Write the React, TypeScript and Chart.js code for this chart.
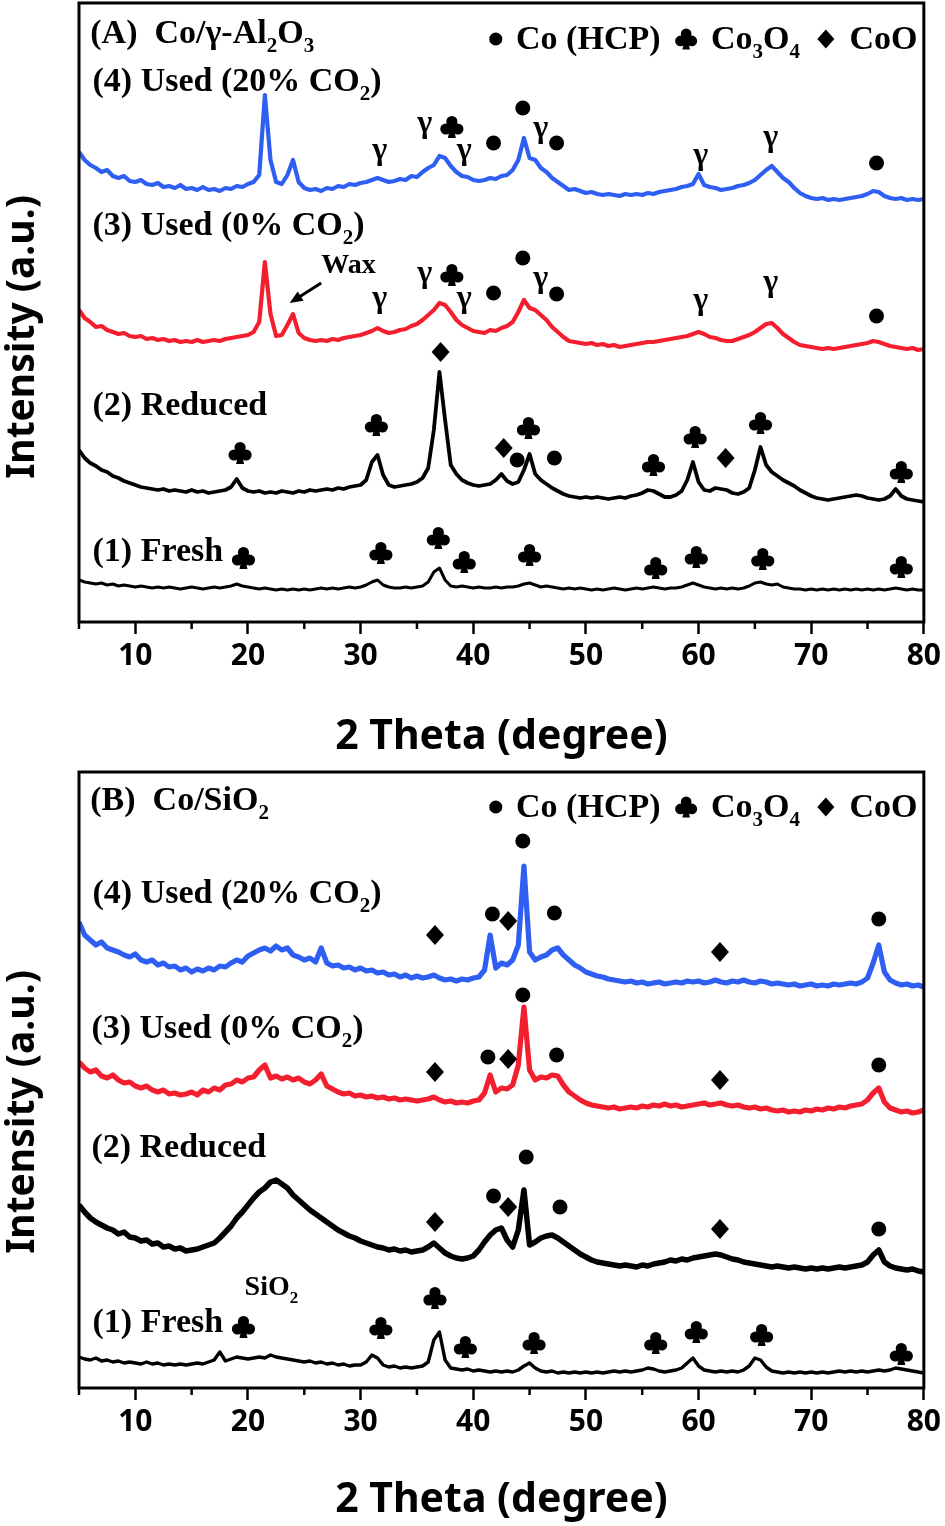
import React, { useEffect, useRef } from "react";
import { Chart, registerables } from "chart.js";
Chart.register(...registerables);

// 2-theta grid (degrees)
const THETA = [
  5, 5.5, 6, 6.5, 7, 7.5, 8, 8.5, 9, 9.5,
  10, 10.5, 11, 11.5, 12, 12.5, 13, 13.5, 14, 14.5,
  15, 15.5, 16, 16.5, 17, 17.5, 18, 18.5, 19, 19.5,
  20, 20.5, 21, 21.5, 22, 22.5, 23, 23.5, 24, 24.5,
  25, 25.5, 26, 26.5, 27, 27.5, 28, 28.5, 29, 29.5,
  30, 30.5, 31, 31.5, 32, 32.5, 33, 33.5, 34, 34.5,
  35, 35.5, 36, 36.5, 37, 37.5, 38, 38.5, 39, 39.5,
  40, 40.5, 41, 41.5, 42, 42.5, 43, 43.5, 44, 44.5,
  45, 45.5, 46, 46.5, 47, 47.5, 48, 48.5, 49, 49.5,
  50, 50.5, 51, 51.5, 52, 52.5, 53, 53.5, 54, 54.5,
  55, 55.5, 56, 56.5, 57, 57.5, 58, 58.5, 59, 59.5,
  60, 60.5, 61, 61.5, 62, 62.5, 63, 63.5, 64, 64.5,
  65, 65.5, 66, 66.5, 67, 67.5, 68, 68.5, 69, 69.5,
  70, 70.5, 71, 71.5, 72, 72.5, 73, 73.5, 74, 74.5,
  75, 75.5, 76, 76.5, 77, 77.5, 78, 78.5, 79, 79.5,
  80,
];

// Panel A: Co/γ-Al2O3 (stacked intensities, a.u.)
const A_USED20 = [
  470, 462, 457, 454, 450, 452, 446, 444, 446, 441,
  440, 442, 438, 437, 439, 435, 436, 434, 437, 433,
  434, 432, 435, 432, 433, 431, 434, 433, 436, 435,
  438, 440, 447, 527, 462, 440, 438, 447, 462, 440,
  434, 432, 433, 431, 434, 433, 436, 435, 438, 437,
  439, 440, 442, 444, 442, 440, 441, 443, 442, 446,
  445, 450, 454, 457, 466, 464, 456, 450, 446, 445,
  442, 441, 442, 444, 443, 446, 447, 452, 462, 484,
  464, 462, 454, 450, 444, 440, 436, 432, 433, 431,
  429, 430, 428, 427, 428, 427, 426, 428, 427, 428,
  427, 429, 428, 430, 431, 432, 433, 435, 436, 438,
  448, 437, 435, 434, 432, 433, 434, 436, 437, 439,
  442, 447, 452, 456, 450, 444, 440, 434, 429, 426,
  424, 423, 424, 422, 423, 422, 423, 424, 425, 426,
  428, 431, 430, 426, 424, 423, 424, 422, 423, 422,
  423,
];
const A_USED0 = [
  312, 304, 300, 295, 296, 292, 290, 288, 289, 286,
  285, 286, 283, 284, 282, 283, 281, 282, 280, 281,
  280, 282, 280, 281, 282, 281, 283, 284, 285, 286,
  287, 290, 300, 360, 308, 286, 287, 297, 308, 289,
  284, 282, 281, 282, 281, 283, 282, 284, 285, 286,
  287, 289, 291, 294, 291, 289, 290, 292, 293, 296,
  298, 302, 307, 312, 319, 317, 310, 302, 297, 294,
  291, 290, 289, 292, 291, 294, 296, 300, 310, 322,
  314, 312, 307, 302, 295, 290, 285, 281, 280, 279,
  278, 279, 277, 278, 276, 277, 275, 276, 277, 278,
  279, 280, 280, 281, 282, 283, 284, 285, 286, 288,
  290, 288, 285, 284, 282, 281, 281, 283, 285, 287,
  290, 294, 298, 299, 294, 288, 284, 280, 277, 276,
  275, 274, 273, 274, 273, 274, 275, 276, 277, 278,
  279, 281, 280, 278, 276, 275, 274, 273, 274, 272,
  273,
];
const A_REDUCED = [
  172, 164, 159, 156, 152, 150, 146, 144, 141, 139,
  137, 135, 134, 133, 132, 133, 131, 132, 131, 130,
  132, 130, 131, 129, 130, 131, 132, 135, 143, 134,
  131, 130, 131, 129, 130, 129, 131, 130, 129, 131,
  130, 132, 131, 132, 133, 132, 134, 133, 135, 136,
  137, 142, 160, 167, 147, 137, 135, 136, 137, 138,
  140, 144, 154, 192, 250, 202, 157, 148, 142, 139,
  137, 136, 137, 138, 142, 148, 141, 138, 140, 152,
  168, 148, 142, 138, 134, 131, 128, 126, 125, 124,
  125, 124, 125, 124, 123, 124, 125, 124, 126, 127,
  129, 132, 131, 128, 125, 125, 127, 131, 142, 160,
  140, 132, 131, 134, 133, 132, 129, 128, 130, 134,
  152, 175, 157, 150, 146, 142, 139, 136, 132, 129,
  126, 124, 123, 122, 123, 124, 125, 126, 127, 126,
  124, 123, 122, 123, 126, 133, 126, 123, 122, 121,
  120,
];
const A_FRESH = [
  42, 40, 39, 38, 39, 37, 38, 36, 37, 36,
  35, 36, 35, 34, 35, 34, 35, 34, 33, 34,
  35, 34, 33, 34, 35, 34, 35, 36, 38, 36,
  35, 34, 33, 34, 33, 32, 33, 32, 33, 32,
  33, 32, 33, 34, 33, 34, 33, 34, 35, 34,
  35, 37, 40, 42, 37, 35, 34, 34, 35, 34,
  35, 36, 40, 50, 54, 42, 36, 35, 36, 35,
  34, 35, 34, 34, 35, 34, 35, 35, 36, 38,
  39, 37, 35, 36, 35, 34, 33, 34, 33, 34,
  33, 32, 33, 32, 33, 34, 33, 32, 33, 34,
  33, 34, 35, 34, 33, 34, 34, 35, 37, 39,
  37, 35, 34, 33, 34, 33, 34, 33, 34, 36,
  39, 40, 38, 37, 38, 35, 34, 33, 33, 32,
  33, 32, 33, 32, 33, 32, 33, 32, 33, 32,
  33, 32, 33, 32, 33, 34, 33, 32, 33, 32,
  32,
];

// Panel B: Co/SiO2
const B_USED20 = [
  466, 453, 448, 443, 446, 440, 438, 436, 433, 431,
  434, 428, 426, 428, 423, 425, 421, 422, 418, 420,
  416, 419, 417, 420, 418, 422, 421, 425, 428, 426,
  432, 435, 438, 440, 437, 442, 438, 440, 433, 431,
  428, 430, 426, 440, 425, 422, 423, 420, 421, 418,
  420, 417, 418, 415, 416, 413, 414, 411, 413, 410,
  412, 410, 411, 413, 410, 408, 409, 407, 409, 408,
  410, 411, 418, 453, 420, 425, 423, 428, 443, 522,
  436, 428, 431, 433, 438, 440, 433, 428, 423, 420,
  416, 414, 412, 411, 409, 408, 407, 406, 407, 405,
  406, 404, 405, 406, 404, 405, 406, 405, 407, 406,
  407, 405, 406, 408, 406, 405, 407, 406, 408, 406,
  405, 407, 406, 404, 405, 404, 403, 404, 402, 403,
  404, 402, 403, 402, 404, 403, 404, 405, 404, 406,
  410, 425, 443, 416, 408, 405, 403, 404, 402, 403,
  401,
];
const B_USED0 = [
  326, 320, 316, 318, 312, 310, 313, 308, 305, 306,
  302, 300, 302, 298, 296, 298, 294, 295, 293, 294,
  296, 293, 298, 296, 300, 298, 303, 304, 308, 306,
  310, 311, 318, 323, 310, 312, 309, 311, 308, 310,
  306, 304, 308, 314, 302, 299, 296, 294, 295, 292,
  293, 291, 292, 290, 291, 289, 290, 288, 289, 288,
  287, 288, 289, 291, 288, 286, 287, 285, 286, 285,
  287, 288, 295, 313, 296, 300, 299, 303, 323, 381,
  318, 308, 311, 310, 313, 312, 303, 296, 292, 288,
  285, 283, 282, 281, 280, 281, 279, 280, 281, 280,
  282, 281, 283, 282, 284, 282, 283, 281, 282, 283,
  284, 285, 283, 284, 285, 283, 282, 283, 281, 280,
  281, 279, 280, 278, 277, 278, 276, 277, 276, 278,
  277, 279, 278, 280, 279, 281, 280, 282, 283, 284,
  288, 295, 300, 286, 280, 278, 276, 277, 275, 276,
  278,
];
const B_REDUCED = [
  183, 176, 170, 166, 163, 160, 158, 154, 156, 151,
  150, 147, 148, 144, 145, 141, 142, 139, 140, 137,
  138, 139, 141, 143, 145, 150, 156, 162, 170, 176,
  183, 190, 196, 200, 206, 208, 204, 200, 193, 188,
  183, 178, 174, 170, 166, 162, 158, 155, 152, 150,
  147, 145, 143, 141, 140, 138, 139, 137, 138, 136,
  137, 138, 141, 145, 140, 135, 132, 130, 129, 130,
  132, 138, 146, 153, 158, 160, 148, 141, 158, 198,
  143, 146, 150, 152, 153, 150, 146, 142, 138, 134,
  131, 128, 126, 125, 124, 123, 122, 123, 122, 121,
  123, 122, 124, 125, 126, 128, 127, 129, 128, 130,
  131, 132, 133, 134, 133, 131, 129, 128, 126, 125,
  124, 123, 122, 121, 122, 121, 120, 121, 120, 119,
  120, 119, 120, 119, 120, 121, 120, 121, 122, 123,
  126, 133, 138, 126, 122, 120, 119, 118, 119, 117,
  116,
];
const B_FRESH = [
  31, 29, 28, 30, 27, 28, 26, 27, 25, 26,
  25, 24, 26, 24, 25, 23, 24, 23, 24, 23,
  24, 25, 24, 26, 28, 36, 27, 29, 31, 30,
  29, 30, 31, 30, 33, 31, 30, 29, 28, 27,
  26, 27, 25, 26, 24, 25, 23, 24, 22, 23,
  23, 26, 33, 30, 23, 21, 22, 20, 21, 20,
  21, 22, 26, 48, 56, 28, 20, 19, 18, 19,
  17, 18, 17, 16, 17, 16, 17, 16, 18, 22,
  25, 20, 17, 16, 17, 15, 16, 15, 16, 15,
  16, 15, 16, 15, 16, 17, 16, 17, 16, 17,
  18, 20, 19, 17, 16, 17, 18, 20, 25, 30,
  22, 18, 17, 16, 17, 16, 17, 16, 18, 22,
  30, 28, 21, 17, 16, 15, 16, 15, 16, 15,
  16, 15, 16, 15, 16, 17, 16, 17, 16, 17,
  16, 17, 18, 17, 18, 20, 19, 18, 17, 16,
  15,
];

const X_TICKS_MINOR = [5, 15, 25, 35, 45, 55, 65, 75];

type Mark = [string, number, number];
type Part = [string, boolean];
type Label = { parts: Part[]; x: number; y: number; size: number };

// peak markers: kind (g=γ, c=♣, o=●, d=◆), 2θ, intensity
const A_MARKS: Mark[] = [
  ["g", 31.7, 467], ["g", 35.7, 494], ["c", 38.1, 495], ["g", 39.2, 467], ["o", 41.8, 479], ["o", 44.4, 514],
  ["g", 46.0, 489], ["o", 47.4, 479], ["g", 60.2, 462], ["g", 66.4, 480], ["o", 75.8, 459],
  ["g", 31.7, 319], ["g", 35.7, 344], ["c", 38.1, 347], ["g", 39.2, 319], ["o", 41.8, 329], ["o", 44.4, 364],
  ["g", 46.0, 339], ["o", 47.4, 328], ["g", 60.2, 317], ["g", 66.4, 335], ["o", 75.8, 306],
  ["c", 19.3, 169], ["c", 31.4, 197], ["d", 37.1, 270], ["d", 42.7, 174], ["o", 43.9, 162], ["c", 44.9, 194],
  ["o", 47.2, 164], ["c", 56.0, 157], ["c", 59.7, 185], ["d", 62.4, 164], ["c", 65.5, 199], ["c", 78.0, 150],
  ["c", 19.6, 64], ["c", 31.8, 69], ["c", 36.9, 84], ["c", 39.2, 60], ["c", 45.0, 67], ["c", 56.2, 54],
  ["c", 59.8, 65], ["c", 65.7, 63], ["c", 78.0, 55],
];
const B_MARKS: Mark[] = [
  ["d", 36.6, 453], ["o", 41.7, 474], ["d", 43.1, 467], ["o", 44.4, 547], ["o", 47.2, 475], ["d", 61.9, 436], ["o", 76.0, 469],
  ["d", 36.6, 316], ["o", 41.3, 331], ["d", 43.1, 329], ["o", 44.4, 393], ["o", 47.4, 333], ["d", 61.9, 308], ["o", 76.0, 323],
  ["d", 36.6, 166], ["o", 41.8, 192], ["d", 43.1, 181], ["o", 44.7, 231], ["o", 47.7, 181], ["d", 61.9, 159], ["o", 76.0, 159],
  ["c", 19.6, 61], ["c", 31.8, 60], ["c", 36.6, 90], ["c", 39.3, 41], ["c", 45.4, 45], ["c", 56.2, 45],
  ["c", 59.8, 56], ["c", 65.6, 53], ["c", 78.0, 34],
];

const A_LABELS: Label[] = [
  { parts: [["(A)  Co/γ-Al", false], ["2", true], ["O", false], ["3", true]], x: 6.0, y: 579, size: 34 },
  { parts: [["(4) Used (20% CO", false], ["2", true], [")", false]], x: 6.2, y: 531, size: 34 },
  { parts: [["(3) Used (0% CO", false], ["2", true], [")", false]], x: 6.2, y: 387, size: 34 },
  { parts: [["(2) Reduced", false]], x: 6.2, y: 207, size: 34 },
  { parts: [["(1) Fresh", false]], x: 6.2, y: 61, size: 34 },
  { parts: [["Wax", false]], x: 26.5, y: 349, size: 28 },
];
const B_LABELS: Label[] = [
  { parts: [["(B)  Co/SiO", false], ["2", true]], x: 6.0, y: 578, size: 34 },
  { parts: [["(4) Used (20% CO", false], ["2", true], [")", false]], x: 6.2, y: 485, size: 34 },
  { parts: [["(3) Used (0% CO", false], ["2", true], [")", false]], x: 6.1, y: 350, size: 34 },
  { parts: [["(2) Reduced", false]], x: 6.1, y: 231, size: 34 },
  { parts: [["(1) Fresh", false]], x: 6.2, y: 56, size: 34 },
  { parts: [["SiO", false], ["2", true]], x: 19.7, y: 93, size: 28 },
];

// legend entries: symbol kind, symbol 2θ, text parts, text 2θ
const LEGEND_KINDS = ["o", "c", "d"];
const LEGEND_SYMBOL_X = [42.0, 58.9, 71.3];
const LEGEND_TEXT_X = [43.8, 61.1, 73.4];
const LEGEND_TEXTS: Part[][] = [
  [["Co (HCP)", false]],
  [["Co", false], ["3", true], ["O", false], ["4", true]],
  [["CoO", false]],
];

const BLUE = "#2f5ef2";
const RED = "#f41f2e";
const BLACK = "#000000";
const SANS = "'Noto Sans', 'Open Sans', sans-serif";
const SERIF = "'Liberation Serif', 'Times New Roman', serif";

type PanelDef = {
  series: { data: number[]; color: string; width: number }[];
  marks: Mark[];
  labels: Label[];
  legendY: number;
  yMax: number;
  padTop: number;
  axisH: number;
  yTitleCenter: number;
  arrow?: number[];
};

const PANEL_A: PanelDef = {
  series: [
    { data: A_USED20, color: BLUE, width: 4.2 },
    { data: A_USED0, color: RED, width: 4.2 },
    { data: A_REDUCED, color: BLACK, width: 3.8 },
    { data: A_FRESH, color: BLACK, width: 3 },
  ],
  marks: A_MARKS,
  labels: A_LABELS,
  legendY: 573,
  yMax: 619,
  padTop: 3,
  axisH: 141,
  yTitleCenter: 337,
  arrow: [26.5, 339, 23.7, 319],
};
const PANEL_B: PanelDef = {
  series: [
    { data: B_USED20, color: BLUE, width: 5.2 },
    { data: B_USED0, color: RED, width: 5.2 },
    { data: B_REDUCED, color: BLACK, width: 5.5 },
    { data: B_FRESH, color: BLACK, width: 3.4 },
  ],
  marks: B_MARKS,
  labels: B_LABELS,
  legendY: 571,
  yMax: 616,
  padTop: 9,
  axisH: 138,
  yTitleCenter: 349,
};

function drawParts(ctx: CanvasRenderingContext2D, parts: Part[], x: number, y: number, size: number) {
  let cx = x;
  ctx.textAlign = "left";
  ctx.textBaseline = "alphabetic";
  for (const [t, sub] of parts) {
    const fs = sub ? Math.round(size * 0.62) : size;
    ctx.font = `bold ${fs}px ${SERIF}`;
    ctx.fillText(t, cx, sub ? y + size * 0.27 : y);
    cx += ctx.measureText(t).width;
  }
}

function drawSymbol(ctx: CanvasRenderingContext2D, kind: string, x: number, y: number, s: number) {
  ctx.fillStyle = "#000";
  if (kind === "o") {
    ctx.beginPath();
    ctx.arc(x, y, 7.5 * s, 0, Math.PI * 2);
    ctx.fill();
  } else if (kind === "d") {
    ctx.beginPath();
    ctx.moveTo(x, y - 10 * s);
    ctx.lineTo(x + 9 * s, y);
    ctx.lineTo(x, y + 10 * s);
    ctx.lineTo(x - 9 * s, y);
    ctx.closePath();
    ctx.fill();
  } else if (kind === "c") {
    const r = 5.6 * s;
    ctx.beginPath();
    ctx.arc(x, y - 5.5 * s, r, 0, Math.PI * 2);
    ctx.arc(x - 6 * s, y + 2 * s, r, 0, Math.PI * 2);
    ctx.moveTo(x + 6 * s + r, y + 2 * s);
    ctx.arc(x + 6 * s, y + 2 * s, r, 0, Math.PI * 2);
    ctx.fill();
    ctx.beginPath();
    ctx.moveTo(x - 1.5 * s, y);
    ctx.lineTo(x + 1.5 * s, y);
    ctx.lineTo(x + 4 * s, y + 11 * s);
    ctx.lineTo(x - 4 * s, y + 11 * s);
    ctx.closePath();
    ctx.fill();
  } else if (kind === "g") {
    ctx.font = `bold 32px ${SERIF}`;
    ctx.textAlign = "center";
    ctx.textBaseline = "alphabetic";
    ctx.fillText("γ", x, y + 4);
  }
}

function PanelChart({ def, top }: { def: PanelDef; top: number }) {
  const ref = useRef<HTMLCanvasElement | null>(null);
  useEffect(() => {
    const canvas = ref.current;
    if (!canvas) return;
    const annot = {
      id: "annot",
      afterDatasetsDraw(chart: any) {
        const ctx: CanvasRenderingContext2D = chart.ctx;
        const xs = chart.scales.x;
        const ys = chart.scales.y;
        const px = (v: number) => xs.getPixelForValue(v);
        const py = (v: number) => ys.getPixelForValue(v);
        const ca = chart.chartArea;
        ctx.save();
        // frame
        ctx.strokeStyle = "#000";
        ctx.lineWidth = 3;
        ctx.strokeRect(ca.left, ca.top, ca.right - ca.left, ca.bottom - ca.top);
        // minor ticks
        ctx.lineWidth = 2.5;
        for (const v of X_TICKS_MINOR) {
          const x = px(v);
          ctx.beginPath();
          ctx.moveTo(x, ca.bottom);
          ctx.lineTo(x, ca.bottom + 7);
          ctx.stroke();
        }
        // peak markers
        for (const [k, t, i] of def.marks) drawSymbol(ctx, k, px(t), py(i), 1);
        // labels
        ctx.fillStyle = "#000";
        for (const l of def.labels) drawParts(ctx, l.parts, px(l.x), py(l.y), l.size);
        // legend
        const ly = py(def.legendY);
        for (let j = 0; j < LEGEND_KINDS.length; j++) {
          const k = LEGEND_KINDS[j];
          drawSymbol(ctx, k, px(LEGEND_SYMBOL_X[j]), ly - 10, k === "o" ? 0.87 : 0.95);
          ctx.fillStyle = "#000";
          drawParts(ctx, LEGEND_TEXTS[j], px(LEGEND_TEXT_X[j]), ly, 34);
        }
        // arrow
        if (def.arrow) {
          const [x1, y1, x2, y2] = def.arrow;
          const ax = px(x1), ay = py(y1), bx = px(x2), by = py(y2);
          const ang = Math.atan2(by - ay, bx - ax);
          ctx.strokeStyle = "#000";
          ctx.lineWidth = 3;
          ctx.beginPath();
          ctx.moveTo(ax, ay);
          ctx.lineTo(bx - 8 * Math.cos(ang), by - 8 * Math.sin(ang));
          ctx.stroke();
          ctx.beginPath();
          ctx.moveTo(bx, by);
          ctx.lineTo(bx - 13 * Math.cos(ang) + 5.5 * Math.sin(ang), by - 13 * Math.sin(ang) - 5.5 * Math.cos(ang));
          ctx.lineTo(bx - 13 * Math.cos(ang) - 5.5 * Math.sin(ang), by - 13 * Math.sin(ang) + 5.5 * Math.cos(ang));
          ctx.closePath();
          ctx.fillStyle = "#000";
          ctx.fill();
        }
        // y title
        ctx.translate(23, def.yTitleCenter);
        ctx.rotate(-Math.PI / 2);
        ctx.font = `bold 39px ${SANS}`;
        ctx.textAlign = "center";
        ctx.textBaseline = "middle";
        ctx.fillStyle = "#000";
        ctx.fillText("Intensity (a.u.)", 0, 0);
        ctx.restore();
      },
    };
    const chart = new Chart(canvas, {
      type: "line",
      data: {
        datasets: def.series.map((s) => ({
          data: THETA.map((t, i) => ({ x: t, y: s.data[i] })),
          borderColor: s.color,
          borderWidth: s.width,
          pointRadius: 0,
          tension: 0,
          fill: false,
          borderJoinStyle: "round" as const,
        })),
      },
      options: {
        animation: false,
        responsive: false,
        maintainAspectRatio: false,
        layout: { padding: { left: 79, right: 20, top: def.padTop, bottom: 0 } },
        plugins: { legend: { display: false }, tooltip: { enabled: false } },
        scales: {
          x: {
            type: "linear",
            min: 5,
            max: 80,
            afterFit: (s: any) => {
              s.height = def.axisH;
            },
            border: { display: false },
            grid: {
              display: true,
              drawOnChartArea: false,
              drawTicks: true,
              tickLength: 12,
              tickWidth: 2.5,
              tickColor: (c: any) => (c.tick && c.tick.value % 10 === 0 ? "#000" : "rgba(0,0,0,0)"),
            },
            ticks: {
              stepSize: 5,
              autoSkip: false,
              maxRotation: 0,
              padding: 4,
              color: "#000",
              font: { family: SANS, size: 30, weight: "bold" },
              callback: (v: any) => (Number(v) % 10 === 0 ? String(v) : ""),
            },
            title: {
              display: true,
              text: "2 Theta (degree)",
              color: "#000",
              font: { family: SANS, size: 41, weight: "bold" },
              padding: { top: 0, bottom: 1 },
            },
          },
          y: { display: false, min: 0, max: def.yMax },
        },
      },
      plugins: [annot],
    } as any);
    return () => chart.destroy();
  }, [def]);
  return (
    <canvas
      ref={ref}
      width={945}
      height={763}
      style={{ position: "absolute", left: 0, top, width: 945, height: 763, display: "block" }}
    />
  );
}

export default function App() {
  useEffect(() => {
    document.body.style.margin = "0";
  }, []);
  return (
    <div style={{ position: "absolute", left: 0, top: 0, width: 945, height: 1526, background: "#fff" }}>
      <PanelChart def={PANEL_A} top={0} />
      <PanelChart def={PANEL_B} top={763} />
    </div>
  );
}
